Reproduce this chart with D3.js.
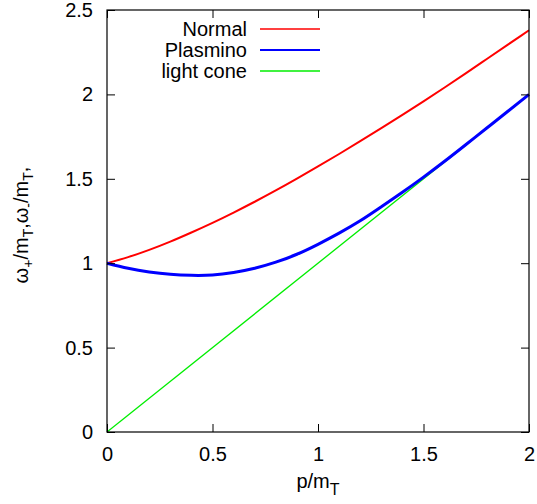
<!DOCTYPE html>
<html>
<head>
<meta charset="utf-8">
<script src="https://cdn.jsdelivr.net/npm/d3@7"></script>
<style>
  html, body { margin: 0; padding: 0; background: #fff; }
  svg { display: block; font-family: "Liberation Sans", Arial, Helvetica, sans-serif; }
</style>
</head>
<body>
<svg id="chart" width="537" height="504"></svg>
<script>
// Momentum grid (p / m_T)
const momentum = [0, 0.1, 0.2, 0.3, 0.4, 0.5, 0.6, 0.7, 0.8, 0.9, 1.0,
                  1.1, 1.2, 1.3, 1.4, 1.5, 1.6, 1.7, 1.8, 1.9, 2.0];
// Normal branch  omega_+ / m_T
const normalBranch = [1.000, 1.036, 1.079, 1.128, 1.182, 1.239, 1.300, 1.364, 1.431, 1.501, 1.573,
                      1.647, 1.723, 1.800, 1.879, 1.959, 2.041, 2.125, 2.210, 2.295, 2.380];
// Plasmino branch  omega_- / m_T
const plasminoBranch = [1.000, 0.970, 0.948, 0.934, 0.928, 0.930, 0.945, 0.970, 1.006, 1.053, 1.112,
                        1.178, 1.251, 1.334, 1.420, 1.510, 1.604, 1.702, 1.801, 1.900, 2.000];
// Light cone  omega = p
const lightConeP = [0, 2];
const lightConeW = [0, 2];

const xTicks = [0, 0.5, 1, 1.5, 2];
const yTicks = [0, 0.5, 1, 1.5, 2, 2.5];
const xTickLabels = ["0", "0.5", "1", "1.5", "2"];
const yTickLabels = ["0", "0.5", "1", "1.5", "2", "2.5"];

const seriesNames = ["Normal", "Plasmino", "light cone"];
const seriesColors = ["#ff0000", "#0000ff", "#00ee00"];
const seriesWidths = [2, 3, 1.3];

const fontSize = 20, subSize = 14;

const svg = d3.select("#chart");
const plotLeft = 107, plotRight = 529, plotTop = 10, plotBottom = 432;

const x = d3.scaleLinear().domain([0, 2]).range([plotLeft, plotRight]);
const y = d3.scaleLinear().domain([0, 2.5]).range([plotBottom, plotTop]);

const series = [
  momentum.map((p, i) => [p, normalBranch[i]]),
  momentum.map((p, i) => [p, plasminoBranch[i]]),
  lightConeP.map((p, i) => [p, lightConeW[i]])
];

const line = d3.line()
  .x(d => x(d[0]))
  .y(d => y(d[1]))
  .curve(d3.curveNatural);

// Curves (light cone first, so the plasmino branch sits on top of it)
const order = [2, 0, 1];
svg.append("g").selectAll("path")
  .data(order)
  .join("path")
  .attr("d", i => line(series[i]))
  .attr("fill", "none")
  .attr("stroke", i => seriesColors[i])
  .attr("stroke-width", i => seriesWidths[i])
  .attr("stroke-linejoin", "round");

// Axes with inward ticks, mirrored on all four sides
const tickLen = 8;
const axisBottom = d3.axisBottom(x).tickValues(xTicks).tickSize(-tickLen).tickPadding(15)
  .tickFormat((d, i) => xTickLabels[i]);
const axisTop = d3.axisTop(x).tickValues(xTicks).tickSize(-tickLen).tickFormat("");
const axisLeft = d3.axisLeft(y).tickValues(yTicks).tickSize(-tickLen).tickPadding(14)
  .tickFormat((d, i) => yTickLabels[i]);
const axisRight = d3.axisRight(y).tickValues(yTicks).tickSize(-tickLen).tickFormat("");

function styleAxis(g) {
  g.select(".domain").remove();
  g.selectAll(".tick line").attr("stroke", "#000").attr("stroke-width", 1);
  g.selectAll(".tick text").attr("fill", "#000").attr("font-size", fontSize)
    .attr("font-family", "Liberation Sans, Arial, sans-serif");
}

svg.append("g").attr("transform", `translate(0,${plotBottom})`).call(axisBottom).call(styleAxis);
svg.append("g").attr("transform", `translate(0,${plotTop})`).call(axisTop).call(styleAxis);
svg.append("g").attr("transform", `translate(${plotLeft},0)`).call(axisLeft).call(styleAxis);
svg.append("g").attr("transform", `translate(${plotRight},0)`).call(axisRight).call(styleAxis);

// Frame
svg.append("rect")
  .attr("x", plotLeft).attr("y", plotTop)
  .attr("width", plotRight - plotLeft).attr("height", plotBottom - plotTop)
  .attr("fill", "none").attr("stroke", "#000").attr("stroke-width", 1.2);

// Axis titles
const xTitle = svg.append("text")
  .attr("x", (plotLeft + plotRight) / 2).attr("y", 488)
  .attr("text-anchor", "middle").attr("font-size", fontSize);
xTitle.append("tspan").text("p/m");
xTitle.append("tspan").attr("font-size", subSize + 2).attr("dy", 7).text("T");

const yTitle = svg.append("text")
  .attr("transform", `translate(28,225) rotate(-90)`)
  .attr("text-anchor", "middle").attr("font-size", fontSize);
yTitle.append("tspan").text("ω");
yTitle.append("tspan").attr("font-size", subSize).attr("dy", 5).text("+");
yTitle.append("tspan").attr("dy", -5).text("/m");
yTitle.append("tspan").attr("font-size", subSize).attr("dy", 5).text("T");
yTitle.append("tspan").attr("dy", -5).text(",ω");
yTitle.append("tspan").attr("font-size", subSize).attr("dy", 5).text("-");
yTitle.append("tspan").attr("dy", -5).text("/m");
yTitle.append("tspan").attr("font-size", subSize).attr("dy", 5).text("T");
yTitle.append("tspan").attr("dy", -5).text(",");

// Legend
const legend = svg.append("g");
seriesNames.forEach((name, i) => {
  const cy = 29 + i * 21;
  legend.append("text")
    .attr("x", 247).attr("y", cy + 7)
    .attr("text-anchor", "end").attr("font-size", fontSize).text(name);
  legend.append("line")
    .attr("x1", 260).attr("x2", 320).attr("y1", cy).attr("y2", cy)
    .attr("stroke", seriesColors[i]).attr("stroke-width", seriesWidths[i] === 3 ? 2 : 1.5);
});
</script>
</body>
</html>
